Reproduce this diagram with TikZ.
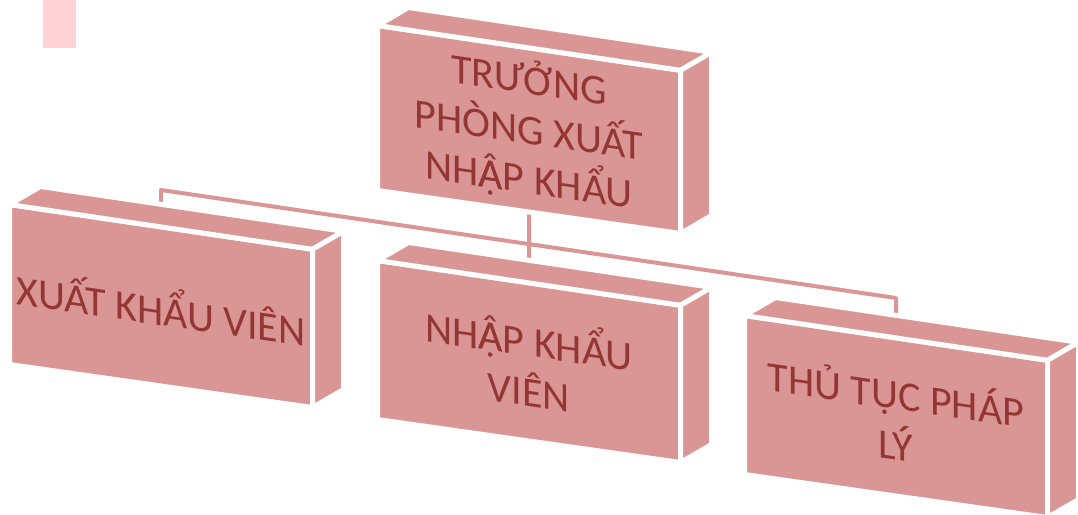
\documentclass[tikz,border=0pt]{standalone}
\usepackage{fontspec}
\setmainfont{Carlito}
\usetikzlibrary{backgrounds, calc}
\definecolor{BoxPink}{HTML}{D99694}
\definecolor{TextRed}{HTML}{943634}
\definecolor{Blush}{HTML}{FFD3D6}
% A with circumflex and dot below, built from two glyphs
\newcommand{\Acircdot}{{\ooalign{\symbol{"00C2}\cr\symbol{"1EA0}}}}

\begin{document}
\begin{tikzpicture}[x=1pt, y=-1pt,
    slabface/.style={fill=BoxPink, draw=white, line width=5pt, line join=miter},
    slabtext/.style={text=TextRed, align=center, yslant=-0.145, inner sep=0pt,
        font=\fontsize{42}{50}\selectfont},
    wire/.style={draw=white, line width=1.2pt, double=BoxPink, double distance=4pt, line join=round}]

    \useasboundingbox (0,0) rectangle (1078,514);  % page frame
    \clip (0,0) rectangle (1078,514);

    % faint mark at top left
    \fill[Blush] (43,0) rectangle (76,48);

    % boxes: front face, top face, side face, text
    \foreach \name/\x/\y/\h/\txt in {
        truong/377.5/25.5/165/{TRƯỞNG\\PHÒNG XUẤT\\NH\Acircdot P KHẨU},
        xuat/9.5/204.5/160/{XUẤT KHẨU VIÊN},
        nhap/377.5/260.5/159/{NH\Acircdot P KHẨU\\VIÊN},
        thutuc/744.5/315.5/159/{THỦ TỤC PHÁP\\LÝ}}{
        \filldraw[slabface] (\x,\y) -- (\x+303,\y+44.8) -- (\x+303,\y+\h+43) -- (\x,\y+\h) -- cycle;
        \filldraw[slabface] (\x,\y) -- (\x+31,\y-18) -- (\x+334,\y+26.8) -- (\x+303,\y+44.8) -- cycle;
        \filldraw[slabface] (\x+303,\y+44.8) -- (\x+334,\y+26.8) -- (\x+334,\y+\h+25) -- (\x+303,\y+\h+43) -- cycle;
        \node[slabtext] (\name) at (\x+151.5,\y+\h/2+22) {\txt};
    }

    % connectors, behind the boxes
    \begin{scope}[on background layer]
        \coordinate (busL) at (xuat.center |- 0,190);
        \coordinate (busR) at (thutuc.center |- 0,298);
        \draw[wire] (xuat.center) -- (busL) -- (busR) -- (thutuc.center)
                    (truong.center) -- (nhap.center);
    \end{scope}

\end{tikzpicture}
\end{document}
